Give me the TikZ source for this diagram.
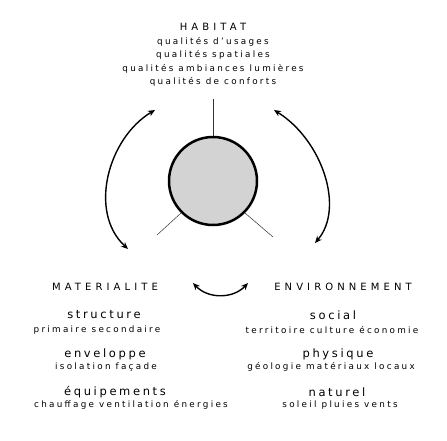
\documentclass[tikz,border=0pt]{standalone}
\usepackage{fontspec}
\usetikzlibrary{arrows.meta}
\newfontfamily\fsmall[LetterSpace=26]{DejaVu Sans}
\newfontfamily\fcaps[LetterSpace=41]{DejaVu Sans}
\newfontfamily\fmid[LetterSpace=23]{DejaVu Sans}
\definecolor{discgray}{HTML}{D3D3D3}
\tikzset{
  small/.style={inner sep=0pt, font=\fsmall\fontsize{8.8}{10}\selectfont, text=black},
  caps/.style={inner sep=0pt, font=\fcaps\fontsize{10}{12}\selectfont, text=black},
  mid/.style={inner sep=0pt, font=\fmid\fontsize{11.5}{13}\selectfont, text=black},
  swing/.style={line width=1.4pt, {Stealth[length=7pt,width=6pt]}-{Stealth[length=7pt,width=6pt]}},
  spoke/.style={line width=0.5pt, black!80}
}
\begin{document}
\begin{tikzpicture}[x=1pt,y=-1pt]
\useasboundingbox (0,0) rectangle (447,440);
% habitat
\node[caps] (hab) at (213,27) {HABITAT};
\node[small] (h1) at (213,42) {qualités d’usages};
\node[small] (h2) at (213,55) {qualités spatiales};
\node[small] (h3) at (213,69) {qualités ambiances lumières};
\node[small] (h4) at (213,82) {qualités de conforts};
% disc
\node[circle, draw, line width=2.5pt, fill=discgray, minimum size=88pt, inner sep=0pt] (c) at (213,181) {};
\coordinate (ttop) at (213,99);
\coordinate (tleft) at (157,235);
\coordinate (tright) at (273,237);
\draw[spoke] (c.north) -- (ttop);
\draw[spoke] (c.225) -- (tleft);
\draw[spoke] (c.-45) -- (tright);
% arrows
\coordinate (la) at (155,110);
\coordinate (lb) at (128,249);
\coordinate (ra) at (274,110);
\coordinate (rb) at (315,243);
\coordinate (ba) at (193,283);
\coordinate (bb) at (248,283);
\draw[swing] (la) .. controls (108,138) and (88,212) .. (lb);
\draw[swing] (ra) .. controls (322,140) and (345,208) .. (rb);
\draw[swing] (ba) .. controls (208,299) and (233,299) .. (bb);
% materialite
\node[caps] (mat) at (105,287) {MATERIALITE};
\node[mid] (str) at (104,315) {structure};
\node[small] (str2) at (97,330) {primaire secondaire};
\node[mid] (env) at (105,354) {enveloppe};
\node[small] (env2) at (106,367) {isolation façade};
\node[mid] (equ) at (115,392) {équipements};
\node[small] (equ2) at (131,405) {chauffage ventilation énergies};
% environnement
\node[caps] (envt) at (343,287) {ENVIRONNEMENT};
\node[mid] (soc) at (333,315) {social};
\node[small] (soc2) at (332,330) {territoire culture économie};
\node[mid] (phy) at (338,354) {physique};
\node[small] (phy2) at (331,367) {géologie matériaux locaux};
\node[mid] (nat) at (337,392) {naturel};
\node[small] (nat2) at (340,405) {soleil pluies vents};
\end{tikzpicture}
\end{document}
